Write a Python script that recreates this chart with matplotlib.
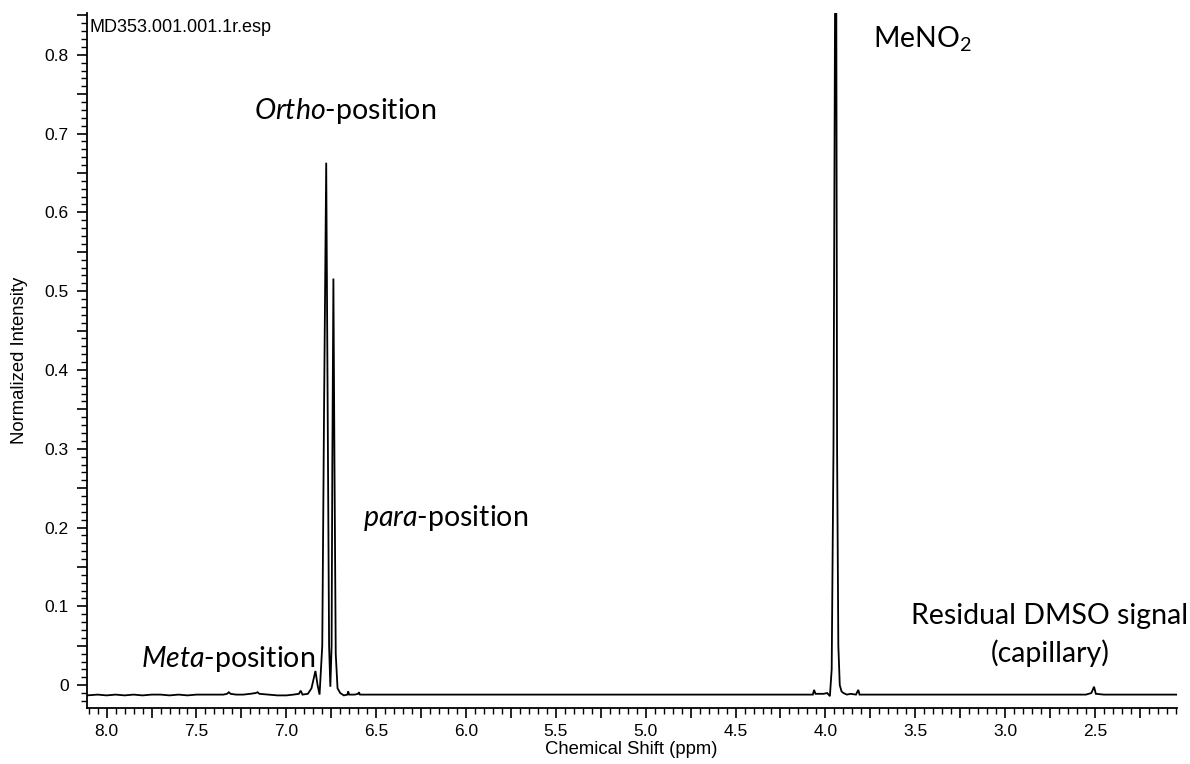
"""1H NMR spectrum with peak annotations."""

import matplotlib
matplotlib.use("Agg")
import matplotlib.pyplot as plt
from matplotlib.ticker import MultipleLocator, FuncFormatter

# spectrum: chemical shift (ppm) and normalized intensity
shift_ppm = [
    8.11, 8.05, 8.00, 7.95, 7.90, 7.85, 7.80, 7.75, 7.70, 7.65, 7.60, 7.55,
    7.50, 7.45, 7.40, 7.35, 7.33, 7.32, 7.31, 7.28, 7.24, 7.20, 7.17, 7.16,
    7.15, 7.10, 7.05, 7.00, 6.96, 6.93, 6.92, 6.91, 6.88, 6.86, 6.85, 6.838,
    6.826, 6.815, 6.80, 6.79, 6.778, 6.77, 6.762, 6.755, 6.748, 6.744, 6.738,
    6.732, 6.725, 6.715, 6.70, 6.68, 6.66, 6.656, 6.65, 6.62, 6.60, 6.596,
    6.59, 6.55, 6.50, 6.40, 6.30, 6.20, 6.10, 6.00, 5.90, 5.80, 5.70, 5.60,
    5.50, 5.40, 5.30, 5.20, 5.10, 5.00, 4.90, 4.80, 4.70, 4.60, 4.50, 4.40,
    4.30, 4.20, 4.10, 4.07, 4.063, 4.055, 4.03, 4.01, 3.99, 3.975, 3.965,
    3.955, 3.945, 3.94, 3.935, 3.928, 3.92, 3.91, 3.90, 3.88, 3.86, 3.83,
    3.817, 3.81, 3.70, 3.60, 3.50, 3.40, 3.30, 3.20, 3.10, 3.00, 2.90, 2.80,
    2.70, 2.60, 2.55, 2.52, 2.505, 2.495, 2.45, 2.40, 2.30, 2.20, 2.10, 2.045,
]
intensity = [
    -0.013, -0.012, -0.013, -0.012, -0.013, -0.012, -0.013, -0.012, -0.012, -0.013, -0.012, -0.013,
    -0.012, -0.012, -0.012, -0.012, -0.011, -0.009, -0.011, -0.012, -0.012, -0.011, -0.010, -0.009,
    -0.011, -0.012, -0.013, -0.013, -0.012, -0.011, -0.007, -0.012, -0.011, -0.004, 0.006, 0.018,
    0.000, -0.012, 0.050, 0.350, 0.663, 0.350, 0.050, -0.002, 0.050, 0.280, 0.516,
    0.280, 0.040, -0.004, -0.010, -0.013, -0.012, -0.008, -0.012, -0.012, -0.011, -0.009,
    -0.012, -0.012, -0.012, -0.012, -0.012, -0.012, -0.012, -0.012, -0.012, -0.012, -0.012, -0.012,
    -0.012, -0.012, -0.012, -0.012, -0.012, -0.012, -0.012, -0.012, -0.012, -0.012, -0.012, -0.012,
    -0.012, -0.012, -0.012, -0.012, -0.006, -0.011, -0.011, -0.011, -0.010, -0.014, 0.020,
    0.300, 0.950, 0.950, 0.300, 0.050, 0.000, -0.008, -0.010, -0.012, -0.011, -0.012,
    -0.006, -0.012, -0.012, -0.012, -0.012, -0.012, -0.012, -0.012, -0.012, -0.012, -0.012, -0.012,
    -0.012, -0.012, -0.012, -0.010, -0.002, -0.011, -0.012, -0.012, -0.012, -0.012, -0.012, -0.012,
]

x_limits = (8.112, 2.045)
y_limits = (-0.029, 0.853)

plt.rcParams["font.family"] = ["Liberation Sans", "DejaVu Sans"]
plt.rcParams["mathtext.fontset"] = "custom"
plt.rcParams["mathtext.rm"] = "Lato"
plt.rcParams["mathtext.it"] = "Lato:italic"

fig = plt.figure(figsize=(11.9, 7.64), dpi=100)
ax = fig.add_axes([86.5 / 1190, 1 - 708 / 764, (1176.7 - 86.5) / 1190, (708 - 13) / 764])

ax.plot(shift_ppm, intensity, color="black", lw=1.3, solid_joinstyle="miter")
ax.set_xlim(*x_limits)
ax.set_ylim(*y_limits)

for side in ("top", "right"):
    ax.spines[side].set_visible(False)
ax.spines["left"].set_linewidth(1.3)
ax.spines["bottom"].set_linewidth(1.3)

ax.xaxis.set_major_locator(MultipleLocator(0.25))
ax.xaxis.set_minor_locator(MultipleLocator(0.05))
ax.xaxis.set_major_formatter(FuncFormatter(
    lambda v, p: f"{v:.1f}" if abs(v * 2 - round(v * 2)) < 1e-6 else ""))
ax.yaxis.set_major_locator(MultipleLocator(0.05))
ax.yaxis.set_minor_locator(MultipleLocator(0.01))
ax.yaxis.set_major_formatter(FuncFormatter(
    lambda v, p: ("0" if abs(v) < 1e-9 else f"{v:.1f}") if abs(v * 10 - round(v * 10)) < 1e-6 else ""))

ax.tick_params(which="major", length=7.2, width=1.2, labelsize=12.5, direction="out")
ax.tick_params(which="minor", length=4, width=1.0, direction="out")
ax.tick_params(axis="x", which="major", pad=4.5)
ax.tick_params(axis="y", which="major", pad=5.5)

ax.set_xlabel("Chemical Shift (ppm)", fontsize=13.3, labelpad=1)
ax.set_ylabel("Normalized Intensity", fontsize=13.3, labelpad=12)

ax.text(0.003, 0.973, "MD353.001.001.1r.esp", transform=ax.transAxes,
        fontsize=13, ha="left", va="baseline")

note = dict(fontsize=20.5, family="Lato", va="baseline")
ax.text(7.18, 0.719, r"$\mathit{Ortho}$-position", ha="left", **note)
ax.text(6.573, 0.2025, r"$\mathit{para}$-position", ha="left", **note)
ax.text(7.806, 0.0228, r"$\mathit{Meta}$-position", ha="left", **note)
ax.text(3.735, 0.809, r"MeNO$_2$", ha="left", **note)
ax.text(2.75, 0.078, "Residual DMSO signal", ha="center", **note)
ax.text(2.75, 0.029, "(capillary)", ha="center", **note)

fig.savefig("out.png", dpi=100)
